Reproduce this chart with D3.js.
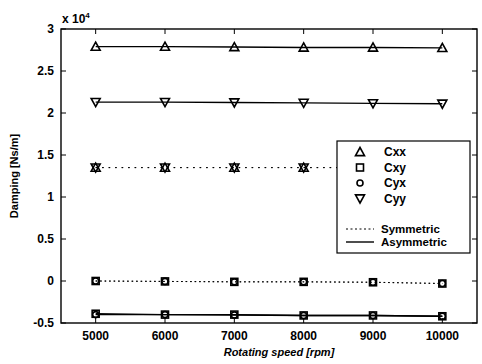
<!DOCTYPE html>
<html>
<head>
<meta charset="utf-8">
<script src="https://cdn.jsdelivr.net/npm/d3@7"></script>
<style>
  body { margin: 0; background: #fff; }
  text { font-family: "Liberation Sans", Arial, sans-serif; }
</style>
</head>
<body>
<svg id="chart" width="482" height="364"></svg>
<script>
// Rotating speed [rpm]
const speeds = [5000, 6000, 7000, 8000, 9000, 10000];
// Damping coefficients, units of 1e4 Ns/m
const cxxAsym = [2.79, 2.79, 2.785, 2.78, 2.78, 2.775];
const cyyAsym = [2.13, 2.13, 2.125, 2.12, 2.115, 2.11];
const cxyAsym = [-0.39, -0.40, -0.40, -0.41, -0.41, -0.42];
const cyxAsym = [-0.40, -0.40, -0.405, -0.41, -0.41, -0.42];
const cxxSym = [1.35, 1.35, 1.35, 1.35, 1.35, 1.35];
const cyySym = [1.35, 1.35, 1.35, 1.35, 1.35, 1.35];
const cxySym = [0, -0.005, -0.01, -0.01, -0.015, -0.03];
const cyxSym = [0, -0.005, -0.01, -0.01, -0.015, -0.03];
const xTicks = [5000, 6000, 7000, 8000, 9000, 10000];
const yTicks = [-0.5, 0, 0.5, 1, 1.5, 2, 2.5, 3];

const svg = d3.select("#chart");
const m = { left: 61, right: 477, top: 29, bottom: 323 };
const x = d3.scaleLinear().domain([4500, 10500]).range([m.left, m.right]);
const y = d3.scaleLinear().domain([-0.5, 3]).range([m.bottom, m.top]);

const series = [
  { vals: cxxSym, marker: "tri", dash: "1.5,5" },
  { vals: cyySym, marker: "tridown", dash: "1.5,5" },
  { vals: cxySym, marker: "square", dash: "1.5,3" },
  { vals: cyxSym, marker: "circle", dash: "1.5,3" },
  { vals: cxxAsym, marker: "tri", dash: null },
  { vals: cyyAsym, marker: "tridown", dash: null },
  { vals: cxyAsym, marker: "square", dash: null },
  { vals: cyxAsym, marker: "circle", dash: null }
];

function drawMarker(g, kind, cx, cy) {
  const s = 4.5;
  if (kind === "tri") {
    g.append("path").attr("d", `M${cx},${cy - s}L${cx + s},${cy + s * 0.8}L${cx - s},${cy + s * 0.8}Z`);
  } else if (kind === "tridown") {
    g.append("path").attr("d", `M${cx},${cy + s}L${cx + s},${cy - s * 0.8}L${cx - s},${cy - s * 0.8}Z`);
  } else if (kind === "square") {
    g.append("rect").attr("x", cx - 3.5).attr("y", cy - 3.5).attr("width", 7).attr("height", 7);
  } else {
    g.append("circle").attr("cx", cx).attr("cy", cy).attr("r", 3);
  }
}

const line = d3.line().x((d, i) => x(speeds[i])).y(d => y(d));
const plot = svg.append("g");
series.forEach(s => {
  plot.append("path").datum(s.vals).attr("d", line)
    .attr("fill", "none").attr("stroke", "#000")
    .attr("stroke-width", s.dash ? 1 : 1.4)
    .attr("stroke-dasharray", s.dash);
  const mg = plot.append("g").attr("fill", "none").attr("stroke", "#000").attr("stroke-width", 1.6);
  s.vals.forEach((v, i) => drawMarker(mg, s.marker, x(speeds[i]), y(v)));
});

// Axes box with inward ticks on all four sides
const axes = svg.append("g").attr("stroke", "#000");
axes.append("rect").attr("x", m.left).attr("y", m.top)
  .attr("width", m.right - m.left).attr("height", m.bottom - m.top)
  .attr("fill", "none").attr("stroke-width", 1.4);
xTicks.forEach(t => {
  axes.append("line").attr("x1", x(t)).attr("x2", x(t)).attr("y1", m.bottom).attr("y2", m.bottom - 5);
  axes.append("line").attr("x1", x(t)).attr("x2", x(t)).attr("y1", m.top).attr("y2", m.top + 5);
});
yTicks.forEach(t => {
  axes.append("line").attr("y1", y(t)).attr("y2", y(t)).attr("x1", m.left).attr("x2", m.left + 5);
  axes.append("line").attr("y1", y(t)).attr("y2", y(t)).attr("x1", m.right).attr("x2", m.right - 5);
});

const lab = svg.append("g").attr("font-size", 12).attr("font-weight", "bold").attr("fill", "#000");
xTicks.forEach(t => {
  lab.append("text").attr("x", x(t)).attr("y", m.bottom + 17).attr("text-anchor", "middle").text(t);
});
yTicks.forEach(t => {
  lab.append("text").attr("x", m.left - 7).attr("y", y(t) + 4).attr("text-anchor", "end").text(t);
});
const mult = lab.append("text").attr("x", m.left + 1).attr("y", m.top - 6);
mult.append("tspan").text("x 10");
mult.append("tspan").attr("font-size", 8).attr("dy", -5).text("4");

svg.append("text").attr("x", (m.left + m.right) / 2 + 10).attr("y", 356)
  .attr("text-anchor", "middle").attr("font-size", 11).attr("font-style", "italic")
  .attr("font-weight", "bold").text("Rotating speed [rpm]");
svg.append("text").attr("transform", `translate(18,${(m.top + m.bottom) / 2}) rotate(-90)`)
  .attr("text-anchor", "middle").attr("font-size", 11).attr("font-weight", "bold")
  .text("Damping [Ns/m]");

// Legend
const leg = svg.append("g");
leg.append("rect").attr("x", 337).attr("y", 141).attr("width", 133).attr("height", 112)
  .attr("fill", "#fff").attr("stroke", "#000").attr("stroke-width", 1.2);
const legMarkers = [
  { name: "Cxx", marker: "tri" },
  { name: "Cxy", marker: "square" },
  { name: "Cyx", marker: "circle" },
  { name: "Cyy", marker: "tridown" }
];
legMarkers.forEach((d, i) => {
  const cy = 152 + i * 15.5;
  const mg = leg.append("g").attr("fill", "none").attr("stroke", "#000").attr("stroke-width", 1.6);
  drawMarker(mg, d.marker, 360, cy);
  leg.append("text").attr("x", 384).attr("y", cy + 4).attr("font-size", 12).attr("font-weight", "bold").text(d.name);
});
const legLines = [{ name: "Symmetric", dash: "2,2.5" }, { name: "Asymmetric", dash: null }];
legLines.forEach((d, i) => {
  const cy = 229 + i * 13;
  leg.append("line").attr("x1", 346).attr("x2", 374).attr("y1", cy).attr("y2", cy)
    .attr("stroke", "#000").attr("stroke-width", d.dash ? 1 : 1.4).attr("stroke-dasharray", d.dash);
  leg.append("text").attr("x", 381).attr("y", cy + 4).attr("font-size", 11.5).attr("font-weight", "bold").text(d.name);
});
</script>
</body>
</html>
